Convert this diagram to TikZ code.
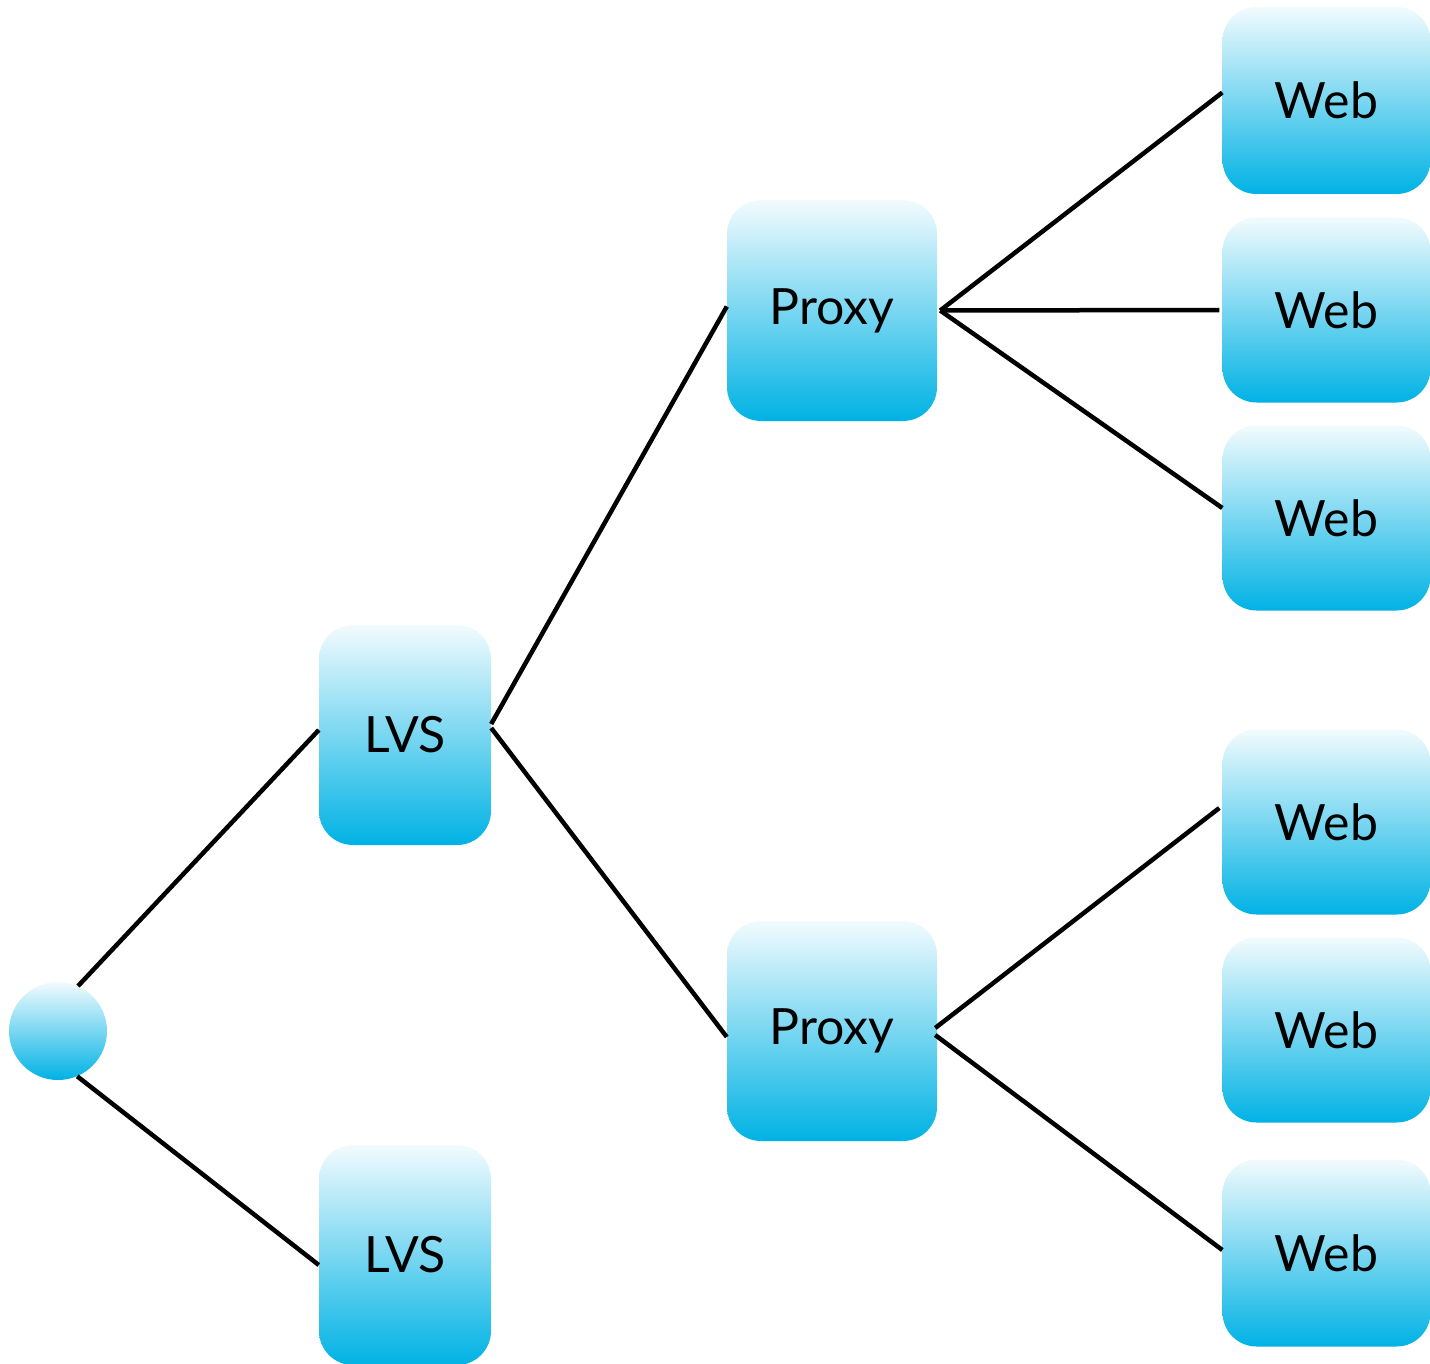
\documentclass[tikz,border=0pt]{standalone}
\usepackage{fontspec}
\setmainfont{Lato}
\definecolor{boxtop}{RGB}{242,251,254}
\definecolor{boxbot}{RGB}{0,178,228}
\tikzset{
  x=1pt, y=-1pt,
  boxbase/.style={top color=boxtop, bottom color=boxbot, draw=none, inner sep=0pt,
    text=black, font=\fontsize{50}{60}\selectfont},
  rbox/.style 2 args={boxbase, rectangle, rounded corners=34pt, minimum width=#1, minimum height=#2},
  rcirc/.style={boxbase, circle, minimum size=98pt},
  conn/.style={line width=4.5pt, black},
}
\begin{document}
\begin{tikzpicture}
\useasboundingbox (0,0) rectangle (1430,1364);
% nodes
\node[rcirc] (c) at (58,1031) {};
\node[rbox={172pt}{220pt}] (l1) at (405,735) {LVS};
\node[rbox={172pt}{220pt}] (l2) at (405,1255) {LVS};
\node[rbox={210pt}{221pt}] (p1) at (832,310.5) {Proxy};
\node[rbox={210pt}{220pt}] (p2) at (832,1031) {Proxy};
\node[rbox={208pt}{187pt}] (w1) at (1326.5,100.5) {Web};
\node[rbox={208pt}{185pt}] (w2) at (1326.5,310) {Web};
\node[rbox={208pt}{185pt}] (w3) at (1326.5,518) {Web};
\node[rbox={208pt}{185pt}] (w4) at (1326.5,822) {Web};
\node[rbox={208pt}{185pt}] (w5) at (1326.5,1030) {Web};
\node[rbox={208pt}{187pt}] (w6) at (1326.5,1253) {Web};
% connectors
\draw[conn] (c.66) -- ([yshift=5pt]l1.west);
\draw[conn] (c.-67) -- ([yshift=-10pt]l2.west);
\draw[conn] ([yshift=11pt]l1.east) -- ([yshift=4pt]p1.west);
\draw[conn] ([yshift=7pt]l1.east) -- ([yshift=-6pt]p2.west);
\draw[conn] ([xshift=3pt]p1.east) -- ([yshift=8pt]w1.west);
\draw[conn] ([xshift=3pt]p1.east) -- ([xshift=-3pt]w2.west);
\draw[conn] ([xshift=3pt]p1.east) -- ([yshift=10pt]w3.west);
\draw[conn] ([xshift=-2pt,yshift=3pt]p2.east) -- ([xshift=-3pt,yshift=14pt]w4.west);
\draw[conn] ([xshift=-2pt,yshift=-4pt]p2.east) -- ([yshift=3pt]w6.west);
\end{tikzpicture}
\end{document}
